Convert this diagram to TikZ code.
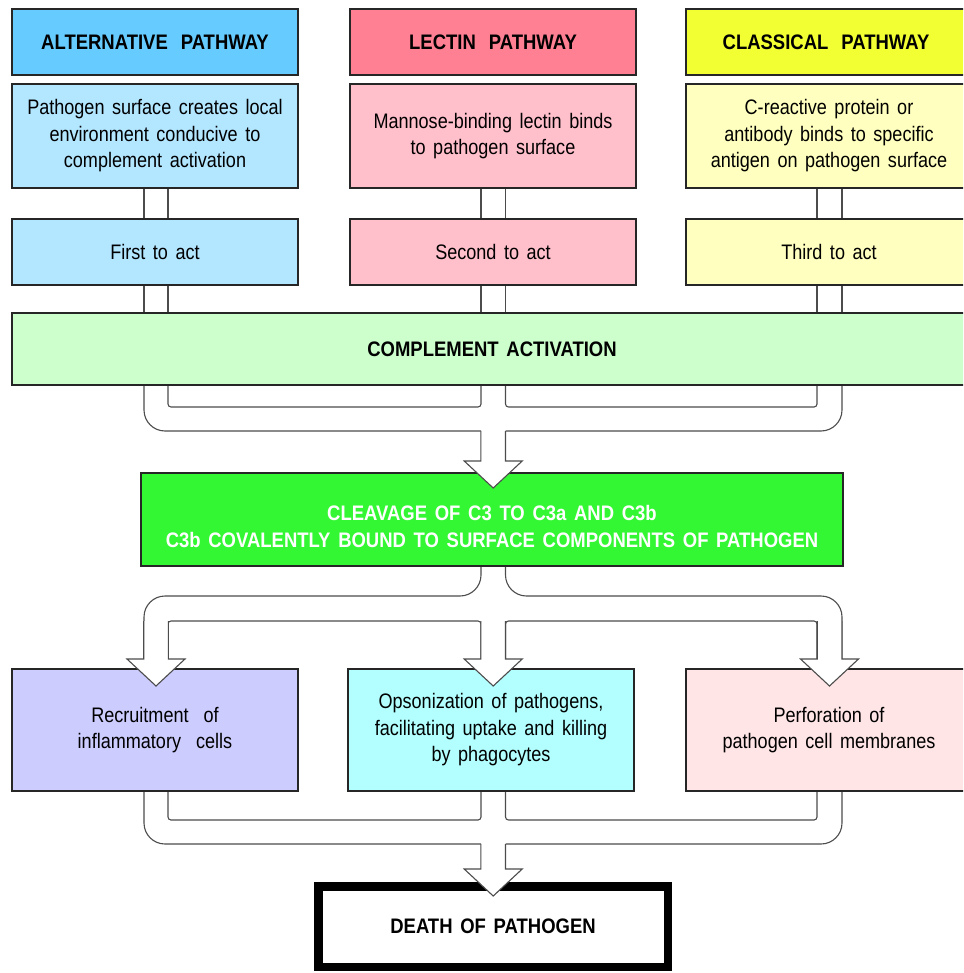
\documentclass[tikz,border=0pt]{standalone}
\usepackage{fontspec}
\setmainfont{Liberation Sans}[FakeStretch=0.86, WordSpace=1.5, BoldFeatures={FakeStretch=0.88}]
\usetikzlibrary{calc,backgrounds}
\definecolor{altH}{HTML}{66CCFF}
\definecolor{altL}{HTML}{B3E6FF}
\definecolor{lecH}{HTML}{FF7F93}
\definecolor{lecL}{HTML}{FFBFCB}
\definecolor{claH}{HTML}{F2FF33}
\definecolor{claL}{HTML}{FFFFBF}
\definecolor{compC}{HTML}{CCFFCC}
\definecolor{cleaveC}{HTML}{33F733}
\definecolor{recC}{HTML}{CCCCFF}
\definecolor{opsC}{HTML}{B3FFFF}
\definecolor{perC}{HTML}{FFE5E5}
\tikzset{
  box/.style={draw=black!85, line width=1.1pt, minimum width=286pt, inner sep=0pt,
    align=center, text=black, font=\fontsize{21}{26.5}\selectfont},
  hdr/.style={box, minimum height=66pt, font=\bfseries\fontsize{21}{26}\selectfont},
  desc/.style={box, minimum height=104pt},
  order/.style={box, minimum height=66pt},
  result/.style={box, minimum height=122pt},
  pipe/.style={draw=black!70, line width=1.1pt},
  arr/.style={draw=black!70, line width=1.1pt, fill=white, line join=miter},
  btxt/.style={font=\bfseries\fontsize{21}{27}\selectfont, align=center, inner sep=0pt}
}
\newcommand\harrow[3]{%
  \draw[arr] ($(#1 |- #2)+(-12.3,0)$) -- ($(#1 |- #3)+(-12.3,-27)$)
    -- ($(#1 |- #3)+(-29,-27)$) -- (#1 |- #3) -- ($(#1 |- #3)+(29,-27)$)
    -- ($(#1 |- #3)+(12.3,-27)$) -- ($(#1 |- #2)+(12.3,0)$);}
\begin{document}
\begin{tikzpicture}[x=1pt,y=-1pt]
\clip (0,0) rectangle (963,973);
% column and row coordinates
\coordinate (aL) at (144,0);   \coordinate (aR) at (168,0);   \coordinate (aC) at (156,0);
\coordinate (bL) at (481,0);   \coordinate (bR) at (505.5,0); \coordinate (bC) at (493.2,0);
\coordinate (cL) at (817,0);   \coordinate (cR) at (842,0);   \coordinate (cC) at (829.5,0);
\coordinate (m1i) at (0,407);  \coordinate (m1o) at (0,431);  \coordinate (t1) at (0,488);
\coordinate (s1o) at (0,596);  \coordinate (s1i) at (0,621);  \coordinate (t2) at (0,686);
\coordinate (m2i) at (0,820);  \coordinate (m2o) at (0,844);  \coordinate (t3) at (0,896);
% headers
\node[hdr, fill=altH] (ah) at (155,42) {ALTERNATIVE\hspace{0.25em} PATHWAY};
\node[hdr, fill=lecH] (lh) at (493,42) {LECTIN\hspace{0.25em} PATHWAY};
\node[hdr, fill=claH] (ch) at (829,42) {CLASSICAL\hspace{0.25em} PATHWAY\hspace{6pt}};
% descriptions
\node[desc, fill=altL] (ad) at (155,136) {Pathogen surface creates local\\environment conducive to\\complement activation};
\node[desc, fill=lecL] (ld) at (493,136) {Mannose-binding lectin binds\\to pathogen surface};
\node[desc, fill=claL] (cd) at (829,136) {C-reactive protein or\\antibody binds to specific\\antigen on pathogen surface};
% order
\node[order, fill=altL] (a1) at (155,252) {First to act};
\node[order, fill=lecL] (l1) at (493,252) {Second to act};
\node[order, fill=claL] (c1) at (829,252) {Third to act};
% complement activation
\node[box, fill=compC, minimum width=960pt, minimum height=72pt, font=\bfseries\fontsize{21}{26}\selectfont] (comp) at (492,349) {COMPLEMENT ACTIVATION};
% cleavage
\node[box, fill=cleaveC, minimum width=702pt, minimum height=93pt] (cleave) at (492,519.5) {};
\node[btxt, text=white] (cleavetxt) at ($(cleave.center)+(0,7)$) {CLEAVAGE OF C3 TO C3a AND C3b\\C3b COVALENTLY BOUND TO SURFACE COMPONENTS OF PATHOGEN};
% results
\node[result, fill=recC] (rec) at (155,730) {Recruitment\ \ of\\inflammatory\ \ cells};
\node[result, fill=opsC] (ops) at (491,730) {Opsonization of pathogens,\\facilitating uptake and killing\\by phagocytes};
\node[result, fill=perC] (per) at (829,730) {Perforation of\\pathogen cell membranes};
% death
\node[draw=black, line width=8.5pt, fill=white, minimum width=349.5pt, minimum height=80.5pt, inner sep=0pt, font=\bfseries\fontsize{21}{26}\selectfont] (death) at (493,926.5) {DEATH OF PATHOGEN};
% pipes behind the boxes
\begin{scope}[on background layer]
\foreach \c/\n in {aL/ad, aR/ad, bL/ld, bR/ld, cL/cd, cR/cd}
  \draw[pipe] (\n.south -| \c) -- (comp.north -| \c);
% merge below complement activation
\draw[pipe, rounded corners=21pt] (comp.south -| aL) -- (aL |- m1o) -- (bL |- m1o);
\draw[pipe, rounded corners=3pt] (comp.south -| aR) -- (aR |- m1i) -- (bL |- m1i) -- (comp.south -| bL);
\draw[pipe, rounded corners=3pt] (comp.south -| bR) -- (bR |- m1i) -- (cL |- m1i) -- (comp.south -| cL);
\draw[pipe, rounded corners=21pt] (comp.south -| cR) -- (cR |- m1o) -- (bR |- m1o);
% split below cleavage
\draw[pipe, rounded corners=21pt] (cleave.south -| bL) -- (bL |- s1o) -- (aL |- s1o) -- (aL |- t2);
\draw[pipe, rounded corners=21pt] (cleave.south -| bR) -- (bR |- s1o) -- (cR |- s1o) -- (cR |- t2);
\draw[pipe, rounded corners=3pt] (aR |- t2) -- (aR |- s1i) -- (bL |- s1i) -- (bL |- t2);
\draw[pipe, rounded corners=3pt] (bR |- t2) -- (bR |- s1i) -- (cL |- s1i) -- (cL |- t2);
% merge below results
\draw[pipe, rounded corners=21pt] (rec.south -| aL) -- (aL |- m2o) -- (bL |- m2o);
\draw[pipe, rounded corners=3pt] (rec.south -| aR) -- (aR |- m2i) -- (bL |- m2i) -- (ops.south -| bL);
\draw[pipe, rounded corners=3pt] (ops.south -| bR) -- (bR |- m2i) -- (cL |- m2i) -- (per.south -| cL);
\draw[pipe, rounded corners=21pt] (per.south -| cR) -- (cR |- m2o) -- (bR |- m2o);
\end{scope}
% arrowheads
\harrow{bC}{m1o}{t1}
\harrow{aC}{s1i}{t2}
\harrow{bC}{s1i}{t2}
\harrow{cC}{s1i}{t2}
\harrow{bC}{m2o}{t3}
\end{tikzpicture}
\end{document}
